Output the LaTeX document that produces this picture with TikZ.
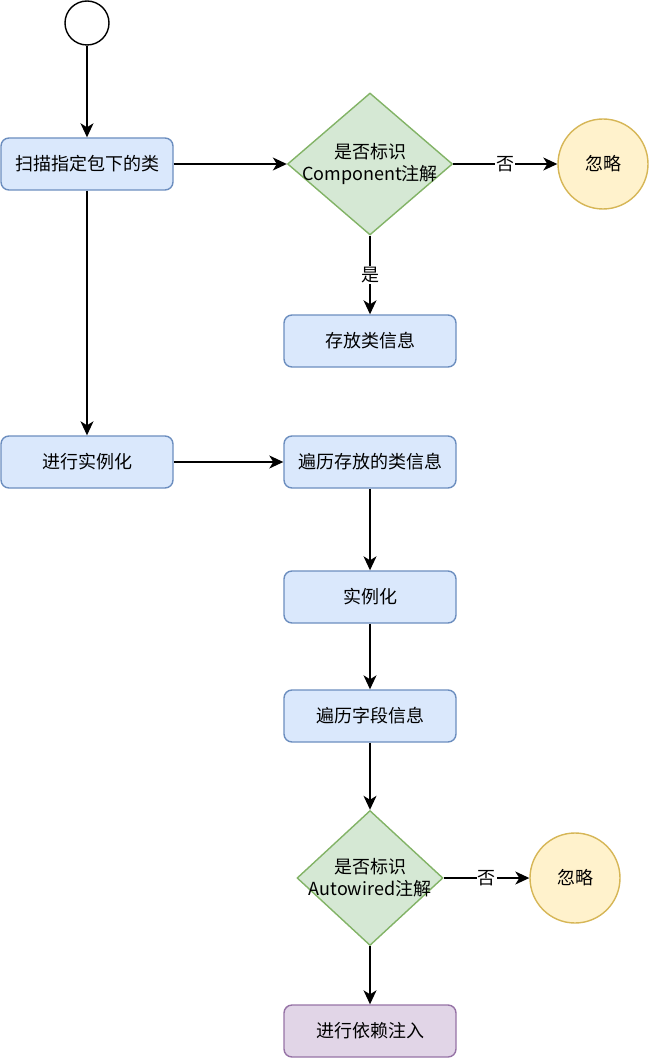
\documentclass[tikz,border=0pt]{standalone}
\usepackage{fontspec}
\setmainfont{Noto Sans CJK SC}
\usetikzlibrary{positioning,arrows.meta,shapes.geometric}

\definecolor{stepfill}{HTML}{DAE8FC}
\definecolor{stepline}{HTML}{6C8EBF}
\definecolor{askfill}{HTML}{D5E8D4}
\definecolor{askline}{HTML}{82B366}
\definecolor{skipfill}{HTML}{FFF2CC}
\definecolor{skipline}{HTML}{D6B656}
\definecolor{endfill}{HTML}{E1D5E7}
\definecolor{endline}{HTML}{9673A6}

\tikzset{
  stepbox/.style={draw=stepline, fill=stepfill, rounded corners=8pt, minimum width=172pt, minimum height=52pt},
  endbox/.style={stepbox, draw=endline, fill=endfill},
  askbox/.style={draw=askline, fill=askfill, diamond, inner sep=0pt},
  asktext/.style={align=center, font=\fontsize{18}{22}\selectfont},
  skipnode/.style={draw=skipline, fill=skipfill, circle, minimum size=90pt},
  flow/.style={->, line width=1.4pt},
  answer/.style={midway, fill=white, inner sep=1pt, font=\fontsize{18}{20}\selectfont}
}

\begin{document}
\begin{tikzpicture}[x=1pt, y=-1pt, line width=1.4pt, font=\fontsize{18}{22}\selectfont,
  >={Stealth[length=14pt, width=13pt, inset=4pt]}]
\useasboundingbox (0,0) rectangle (649,1059);

\node[draw, fill=white, circle, minimum size=44pt] (start) at (87,23) {};
\node[stepbox] (scan) at (87,164) {扫描指定包下的类};
\node[askbox, minimum width=165pt, minimum height=142pt,
  label={[asktext]center:是否标识\\Component注解}] (isComp) at (370,164) {};
\node[skipnode] (skip_1) at (603,164) {忽略};
\node[stepbox] (store) at (370,341) {存放类信息};

\node[stepbox] (instAll) at (87,462) {进行实例化};
\node[stepbox] (loopCls) at (370,462) {遍历存放的类信息};
\node[stepbox] (inst) at (370,597) {实例化};
\node[stepbox] (loopField) at (370,716) {遍历字段信息};
\node[askbox, minimum width=146pt, minimum height=135pt,
  label={[asktext]center:是否标识\\Autowired注解}] (isAuto) at (370,878) {};
\node[skipnode] (skip_2) at (575,878) {忽略};
\node[endbox] (inject) at (370,1031) {进行依赖注入};

\draw[flow] (start) -- (scan);
\draw[flow] (scan) -- (isComp);
\draw[flow] (isComp) -- (skip_1) node[answer] {否};
\draw[flow] (isComp) -- (store) node[answer] {是};
\draw[flow] (scan) -- (instAll);
\draw[flow] (instAll) -- (loopCls);
\draw[flow] (loopCls) -- (inst);
\draw[flow] (inst) -- (loopField);
\draw[flow] (loopField) -- (isAuto);
\draw[flow] (isAuto) -- (skip_2) node[answer] {否};
\draw[flow] (isAuto) -- (inject);

\end{tikzpicture}
\end{document}
